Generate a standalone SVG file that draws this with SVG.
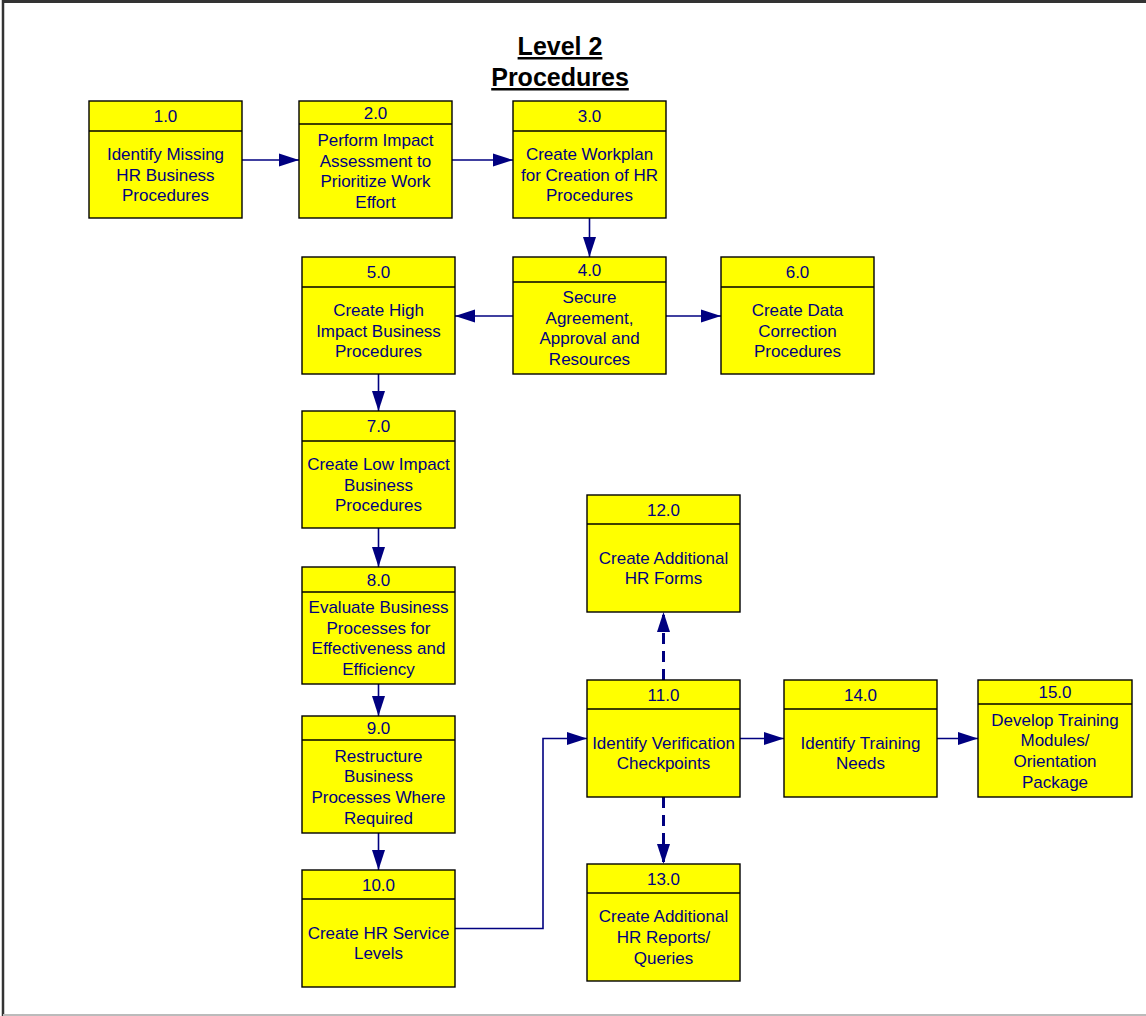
<svg xmlns="http://www.w3.org/2000/svg" width="1146" height="1016" viewBox="0 0 1146 1016">
  <style>
    .box { fill: #ffff00; stroke: #000; stroke-width: 1.4; }
    .div { stroke: #000; stroke-width: 1.4; }
    .lbl { font-family: "Liberation Sans", Arial, sans-serif; font-size: 17px; fill: #000080; text-anchor: middle; }
    .title { font-family: "Liberation Sans", Arial, sans-serif; font-size: 25px; font-weight: bold; fill: #000; text-anchor: middle; text-decoration: underline; }
    .flow { fill: none; stroke: #000080; stroke-width: 1.6; marker-end: url(#arrow); }
    .opt { fill: none; stroke: #000080; stroke-width: 3; stroke-dasharray: 11 7; marker-end: url(#arrow); }
  </style>
  <defs>
    <marker id="arrow" markerUnits="userSpaceOnUse" markerWidth="20" markerHeight="14" refX="20" refY="7" orient="auto">
      <path d="M0,0.5 L20,7 L0,13.5 Z" fill="#000080" stroke="none"/>
    </marker>
  </defs>

  <rect width="1146" height="1016" fill="#fff"/>
  <!-- page frame -->
  <line x1="2" y1="1.5" x2="1146" y2="1.5" stroke="#333" stroke-width="3"/>
  <line x1="3" y1="0" x2="3" y2="1016" stroke="#333" stroke-width="2.5"/>
  <line x1="3" y1="1015" x2="1146" y2="1015" stroke="#bbb" stroke-width="2"/>

  <g id="title">
    <text class="title" x="560" y="55">Level 2</text>
    <text class="title" x="560" y="86">Procedures</text>
  </g>

  <g id="connectors">
    <path class="flow" d="M242,160 L299,160"/>
    <path class="flow" d="M452,160 L513,160"/>
    <path class="flow" d="M589.5,218 L589.5,257"/>
    <path class="flow" d="M513,316 L455,316"/>
    <path class="flow" d="M666,316 L721,316"/>
    <path class="flow" d="M378.5,374 L378.5,411"/>
    <path class="flow" d="M378.5,528 L378.5,567"/>
    <path class="flow" d="M378.5,684 L378.5,716"/>
    <path class="flow" d="M378.5,833 L378.5,870"/>
    <path class="flow" d="M455,928.5 L543,928.5 L543,738.5 L587,738.5"/>
    <path class="opt" d="M663.5,680 L663.5,612"/>
    <path class="opt" d="M663.5,797 L663.5,864"/>
    <path class="flow" d="M740,738.5 L784,738.5"/>
    <path class="flow" d="M937,738.5 L978,738.5"/>
  </g>

  <g id="n1">
    <rect class="box" x="89" y="101" width="153" height="117"/>
    <line class="div" x1="89" y1="131" x2="242" y2="131"/>
    <text class="lbl" x="165.5" y="122">1.0</text>
    <text class="lbl"><tspan x="165.5" y="159.8">Identify Missing</tspan><tspan x="165.5" y="180.5">HR Business</tspan><tspan x="165.5" y="201.2">Procedures</tspan></text>
  </g>

  <g id="n2">
    <rect class="box" x="299" y="101" width="153" height="117"/>
    <line class="div" x1="299" y1="124" x2="452" y2="124"/>
    <text class="lbl" x="375.5" y="118.5">2.0</text>
    <text class="lbl"><tspan x="375.5" y="146">Perform Impact</tspan><tspan x="375.5" y="166.7">Assessment to</tspan><tspan x="375.5" y="187.4">Prioritize Work</tspan><tspan x="375.5" y="208.1">Effort</tspan></text>
  </g>

  <g id="n3">
    <rect class="box" x="513" y="101" width="153" height="117"/>
    <line class="div" x1="513" y1="131" x2="666" y2="131"/>
    <text class="lbl" x="589.5" y="122">3.0</text>
    <text class="lbl"><tspan x="589.5" y="159.8">Create Workplan</tspan><tspan x="589.5" y="180.5">for Creation of HR</tspan><tspan x="589.5" y="201.2">Procedures</tspan></text>
  </g>

  <g id="n4">
    <rect class="box" x="513" y="257" width="153" height="117"/>
    <line class="div" x1="513" y1="282" x2="666" y2="282"/>
    <text class="lbl" x="589.5" y="275.5">4.0</text>
    <text class="lbl"><tspan x="589.5" y="303">Secure</tspan><tspan x="589.5" y="323.7">Agreement,</tspan><tspan x="589.5" y="344.4">Approval and</tspan><tspan x="589.5" y="365.1">Resources</tspan></text>
  </g>

  <g id="n5">
    <rect class="box" x="302" y="257" width="153" height="117"/>
    <line class="div" x1="302" y1="287" x2="455" y2="287"/>
    <text class="lbl" x="378.5" y="278">5.0</text>
    <text class="lbl"><tspan x="378.5" y="315.8">Create High</tspan><tspan x="378.5" y="336.5">Impact Business</tspan><tspan x="378.5" y="357.2">Procedures</tspan></text>
  </g>

  <g id="n6">
    <rect class="box" x="721" y="257" width="153" height="117"/>
    <line class="div" x1="721" y1="287" x2="874" y2="287"/>
    <text class="lbl" x="797.5" y="278">6.0</text>
    <text class="lbl"><tspan x="797.5" y="315.8">Create Data</tspan><tspan x="797.5" y="336.5">Correction</tspan><tspan x="797.5" y="357.2">Procedures</tspan></text>
  </g>

  <g id="n7">
    <rect class="box" x="302" y="411" width="153" height="117"/>
    <line class="div" x1="302" y1="441" x2="455" y2="441"/>
    <text class="lbl" x="378.5" y="432">7.0</text>
    <text class="lbl"><tspan x="378.5" y="469.8">Create Low Impact</tspan><tspan x="378.5" y="490.5">Business</tspan><tspan x="378.5" y="511.2">Procedures</tspan></text>
  </g>

  <g id="n8">
    <rect class="box" x="302" y="567" width="153" height="117"/>
    <line class="div" x1="302" y1="592" x2="455" y2="592"/>
    <text class="lbl" x="378.5" y="585.5">8.0</text>
    <text class="lbl"><tspan x="378.5" y="613">Evaluate Business</tspan><tspan x="378.5" y="633.7">Processes for</tspan><tspan x="378.5" y="654.4">Effectiveness and</tspan><tspan x="378.5" y="675.1">Efficiency</tspan></text>
  </g>

  <g id="n9">
    <rect class="box" x="302" y="716" width="153" height="117"/>
    <line class="div" x1="302" y1="740" x2="455" y2="740"/>
    <text class="lbl" x="378.5" y="734">9.0</text>
    <text class="lbl"><tspan x="378.5" y="761.5">Restructure</tspan><tspan x="378.5" y="782.2">Business</tspan><tspan x="378.5" y="802.9">Processes Where</tspan><tspan x="378.5" y="823.6">Required</tspan></text>
  </g>

  <g id="n10">
    <rect class="box" x="302" y="870" width="153" height="117"/>
    <line class="div" x1="302" y1="899" x2="455" y2="899"/>
    <text class="lbl" x="378.5" y="890.5">10.0</text>
    <text class="lbl"><tspan x="378.5" y="938.7">Create HR Service</tspan><tspan x="378.5" y="959.4">Levels</tspan></text>
  </g>

  <g id="n11">
    <rect class="box" x="587" y="680" width="153" height="117"/>
    <line class="div" x1="587" y1="709" x2="740" y2="709"/>
    <text class="lbl" x="663.5" y="700.5">11.0</text>
    <text class="lbl"><tspan x="663.5" y="748.7">Identify Verification</tspan><tspan x="663.5" y="769.4">Checkpoints</tspan></text>
  </g>

  <g id="n12">
    <rect class="box" x="587" y="495" width="153" height="117"/>
    <line class="div" x1="587" y1="524" x2="740" y2="524"/>
    <text class="lbl" x="663.5" y="515.5">12.0</text>
    <text class="lbl"><tspan x="663.5" y="563.7">Create Additional</tspan><tspan x="663.5" y="584.4">HR Forms</tspan></text>
  </g>

  <g id="n13">
    <rect class="box" x="587" y="864" width="153" height="117"/>
    <line class="div" x1="587" y1="893" x2="740" y2="893"/>
    <text class="lbl" x="663.5" y="884.5">13.0</text>
    <text class="lbl"><tspan x="663.5" y="922.3">Create Additional</tspan><tspan x="663.5" y="943">HR Reports/</tspan><tspan x="663.5" y="963.7">Queries</tspan></text>
  </g>

  <g id="n14">
    <rect class="box" x="784" y="680" width="153" height="117"/>
    <line class="div" x1="784" y1="709" x2="937" y2="709"/>
    <text class="lbl" x="860.5" y="700.5">14.0</text>
    <text class="lbl"><tspan x="860.5" y="748.7">Identify Training</tspan><tspan x="860.5" y="769.4">Needs</tspan></text>
  </g>

  <g id="n15">
    <rect class="box" x="978" y="680" width="154" height="117"/>
    <line class="div" x1="978" y1="704" x2="1132" y2="704"/>
    <text class="lbl" x="1055" y="698">15.0</text>
    <text class="lbl"><tspan x="1055" y="725.5">Develop Training</tspan><tspan x="1055" y="746.2">Modules/</tspan><tspan x="1055" y="766.9">Orientation</tspan><tspan x="1055" y="787.6">Package</tspan></text>
  </g>
</svg>
